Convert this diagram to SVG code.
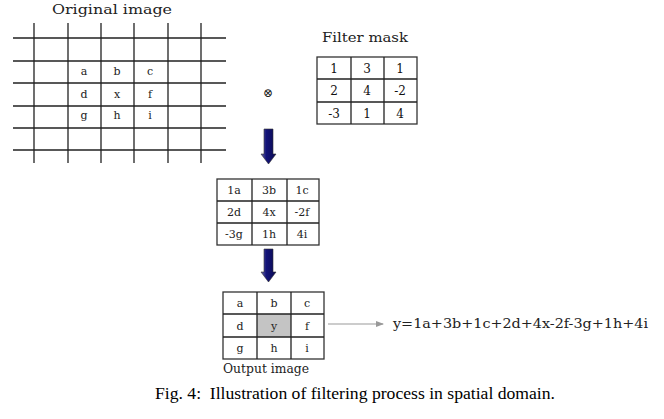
<svg xmlns="http://www.w3.org/2000/svg" width="664" height="419" viewBox="0 0 664 419">
<defs>
<style>
.t{font-family:"DejaVu Serif","Liberation Serif",serif;fill:#222;}
.c{font-size:11px;text-anchor:middle;}
.ttl{font-size:12.5px;}
.g{stroke:#222;stroke-width:1.3;fill:none;}
.tb{stroke:#333;stroke-width:1.3;fill:#fff;}
.cap{font-family:"Liberation Serif",serif;font-size:16px;fill:#000;}
</style>
<linearGradient id="sh" x1="0" x2="1" y1="0" y2="0">
<stop offset="0" stop-color="#6a6aa8"/>
<stop offset="0.35" stop-color="#14147a"/>
<stop offset="1" stop-color="#0a0a50"/>
</linearGradient>
<marker id="ah" markerWidth="8" markerHeight="6" refX="7" refY="3" orient="auto" markerUnits="userSpaceOnUse">
<path d="M0,0 L8,3 L0,6 Z" fill="#999"/>
</marker>
</defs>
<rect width="664" height="419" fill="#fff"/>

<g id="original-image">
<text class="t ttl" x="112" y="14" text-anchor="middle" textLength="120" lengthAdjust="spacingAndGlyphs">Original image</text>
<g class="g">
<path d="M13,38H226M13,61H226M13,83H226M13,106H226M13,128H226M13,150H226"/>
<path d="M34,23V163M68,23V163M101,23V163M134,23V163M168,23V163M201,23V163"/>
</g>
<g class="t c">
<text x="84" y="75">a</text><text x="117" y="75">b</text><text x="150" y="75">c</text>
<text x="84" y="98">d</text><text x="117" y="98">x</text><text x="150" y="98">f</text>
<text x="84" y="119">g</text><text x="117" y="119">h</text><text x="150" y="119">i</text>
</g>
</g>

<g id="convolve">
<text class="t" x="268" y="97" font-size="12" text-anchor="middle">⊗</text>
</g>

<g id="filter-mask">
<text class="t ttl" x="365" y="42" text-anchor="middle" textLength="86" lengthAdjust="spacingAndGlyphs">Filter mask</text>
<rect class="tb" x="317" y="57" width="100" height="67"/>
<path class="g" d="M351,57V124M384,57V124M317,79H417M317,102H417"/>
<g class="t c" style="font-size:12px;fill:#111">
<text x="334" y="73">1</text><text x="367" y="73">3</text><text x="400" y="73">1</text>
<text x="334" y="95">2</text><text x="367" y="95">4</text><text x="400" y="95">-2</text>
<text x="334" y="118">-3</text><text x="367" y="118">1</text><text x="400" y="118">4</text>
</g>
</g>

<g id="products">
<rect class="tb" x="217" y="179" width="102" height="66"/>
<path class="g" d="M252,179V245M287,179V245M217,201H319M217,223H319"/>
<g class="t c">
<text x="234" y="194">1a</text><text x="269" y="194">3b</text><text x="302" y="194">1c</text>
<text x="234" y="216">2d</text><text x="269" y="216">4x</text><text x="302" y="216">-2f</text>
<text x="234" y="238">-3g</text><text x="269" y="238">1h</text><text x="302" y="238">4i</text>
</g>
</g>

<g id="output-image">
<rect class="tb" x="223" y="292" width="101" height="67"/>
<rect x="257" y="314" width="34" height="23" fill="#c4c4c4"/>
<path class="g" d="M257,292V359M291,292V359M223,314H324M223,337H324"/>
<g class="t c">
<text x="240" y="307">a</text><text x="274" y="307">b</text><text x="307" y="307">c</text>
<text x="240" y="330">d</text><text x="274" y="330">y</text><text x="307" y="330">f</text>
<text x="240" y="352">g</text><text x="274" y="352">h</text><text x="307" y="352">i</text>
</g>
<text class="t ttl" x="266" y="373" text-anchor="middle" textLength="86" lengthAdjust="spacingAndGlyphs">Output image</text>
</g>

<g id="equation">
<text class="t" x="393" y="328" font-size="12.5" textLength="255" lengthAdjust="spacingAndGlyphs">y=1a+3b+1c+2d+4x-2f-3g+1h+4i</text>
</g>

<g id="connectors">
<path d="M264,129H273V154H276L268.5,164L261,154H264Z" fill="url(#sh)" stroke="#333" stroke-width="0.6"/>
<path d="M264,249H273V272H276L268.5,282L261,272H264Z" fill="url(#sh)" stroke="#333" stroke-width="0.6"/>
<line x1="328" y1="324" x2="383" y2="324" stroke="#999" stroke-width="1" marker-end="url(#ah)"/>
</g>

<text class="cap" x="155" y="399" textLength="400" lengthAdjust="spacingAndGlyphs">Fig. 4:&#160; Illustration of filtering process in spatial domain.</text>
</svg>
